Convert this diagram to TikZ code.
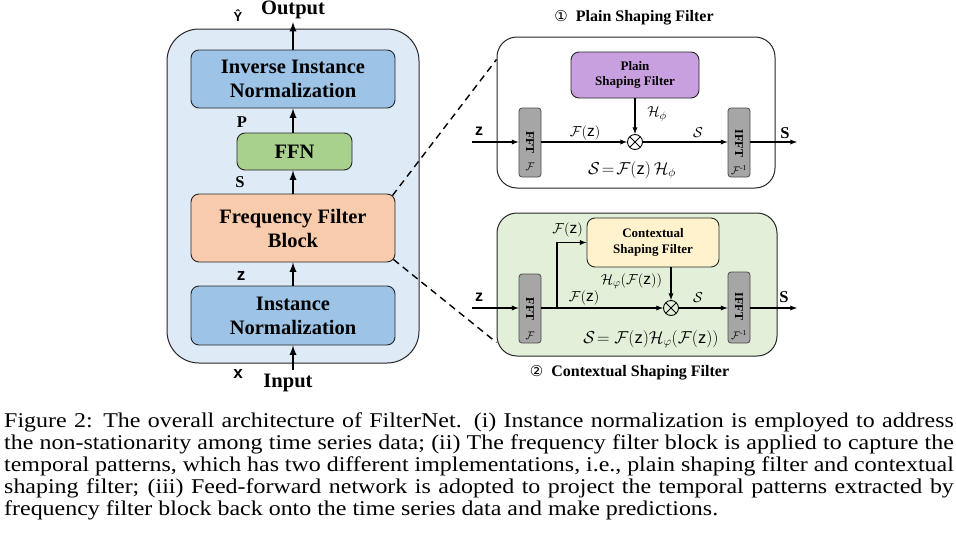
\documentclass[tikz,border=0pt]{standalone}
\usepackage{fontspec}
\usepackage{amsmath}
\usepackage{graphicx}
\setmainfont{Liberation Serif}
\setsansfont{Liberation Sans}
\newfontfamily\circfont{DejaVu Sans}
\usetikzlibrary{positioning}

\definecolor{bodyblue}{HTML}{DEEBF7}
\definecolor{normblue}{HTML}{9DC3E6}
\definecolor{ffngreen}{HTML}{A9D18E}
\definecolor{ffborange}{HTML}{F8CBAD}
\definecolor{psfpurple}{HTML}{C9A0DF}
\definecolor{csfyellow}{HTML}{FFF2CC}
\definecolor{ctxgreen}{HTML}{E2F0D9}
\definecolor{fftgray}{HTML}{A6A6A6}

\newcommand{\capline}[1]{\scalebox{1.14}[1]{\makebox[833pt][s]{#1}}}

\begin{document}
\begin{tikzpicture}[x=1pt, y=-1pt, >=latex,
		block/.style={draw=black!85, rounded corners=8pt, line width=0.9pt, inner sep=0pt, align=center, font=\fontsize{20.5}{24}\selectfont\bfseries},
		small block/.style={block, font=\fontsize{13}{15.5}\selectfont\bfseries},
		frame/.style={draw=black!85, rounded corners=20pt, line width=1pt, inner sep=0pt},
		fftbox/.style={draw=black!70, fill=fftgray, rounded corners=3pt, line width=0.8pt, minimum width=22pt, inner sep=0pt},
		fftlbl/.style={rotate=-90, inner sep=0pt, font=\fontsize{12}{12}\selectfont\bfseries},
		mul/.style={circle, draw, line width=0.9pt, minimum size=15pt, inner sep=0pt,
				path picture={\draw[line width=0.9pt] (path picture bounding box.north west) -- (path picture bounding box.south east)
						(path picture bounding box.north east) -- (path picture bounding box.south west);}},
		flow/.style={->, line width=2.2pt},
		thin flow/.style={->, line width=1.3pt},
		sig/.style={inner sep=0pt, font=\fontsize{16.5}{18}\selectfont\bfseries},
		var/.style={inner sep=0pt, font=\fontsize{17}{18}\selectfont\sffamily\bfseries},
		lbl/.style={inner sep=0pt, font=\fontsize{15.5}{17}\selectfont},
		title/.style={inner sep=0pt, font=\fontsize{16}{18}\selectfont\bfseries},
		caption/.style={anchor=base west, inner sep=0pt, font=\fontsize{21}{22}\selectfont}]
	\useasboundingbox (0,0) rectangle (956,541);

	% FilterNet body
	\draw[fill=bodyblue, draw=black!85, line width=1pt, rounded corners=32pt] (167,29) rectangle (419,363);
	\node[block, fill=normblue, minimum width=204pt, minimum height=58pt] (inv) at (293,79) {Inverse Instance\\Normalization};
	\node[block, fill=ffngreen, minimum width=115pt, minimum height=37pt] (ffn) at (294.5,151.5) {FFN};
	\node[block, fill=ffborange, minimum width=204pt, minimum height=68pt] (ffb) at (293,228) {Frequency Filter\\Block};
	\node[block, fill=normblue, minimum width=204pt, minimum height=59pt] (inorm) at (293,315.5) {Instance\\Normalization};
	\node[anchor=base, inner sep=3pt, font=\fontsize{20.5}{24}\selectfont\bfseries] (output) at (293,14.5) {Output};
	\node[anchor=base, inner sep=3pt, font=\fontsize{20.5}{24}\selectfont\bfseries] (input) at (288,387) {Input};

	\draw[flow] (input.north -| inorm) -- (inorm.south);
	\draw[flow] (inorm.north) -- (ffb.south);
	\draw[flow] (ffb.north) -- (ffn.south -| ffb);
	\draw[flow] (ffn.north -| inv) -- (inv.south);
	\draw[flow] (inv.north) -- (output.south -| inv);

	\node[var, font=\fontsize{13}{14}\selectfont\sffamily\bfseries] (yhat) at (238,16) {Ŷ};
	\node[sig] (plbl) at (242,122.5) {P};
	\node[sig] (slbl) at (240,182.5) {S};
	\node[var] (zlbl) at (241,276) {z};
	\node[var] (xlbl) at (238,374) {x};

	% plain shaping filter
	\node[frame, fill=white, minimum width=278pt, minimum height=151pt] (plainbox) at (636,112.5) {};
	\node[title] (plaintitle) at (634,18) {{\circfont\fontsize{15}{18}\selectfont\mdseries ①}\ \ Plain Shaping Filter};
	\node[small block, fill=psfpurple, minimum width=128pt, minimum height=46pt] (psf) at (635,75) {Plain\\Shaping Filter};
	\node[fftbox, minimum height=69pt] (fft1) at (530,142.5) {};
	\node[fftbox, minimum height=69pt] (ifft1) at (739,142.5) {};
	\node[fftlbl] (fftt1) at (530,142.5) {FFT};
	\node[fftlbl] (ifftt1) at (739,143.5) {IFFT};
	\node[lbl, font=\fontsize{11}{12}\selectfont] (fftf1) at (530,167) {$\mathcal{F}$};
	\node[lbl, font=\fontsize{11}{12}\selectfont] (ifftf1) at (739,170) {$\mathcal{F}^{\text{-1}}$};
	\node[mul] (mul1) at (635,142) {};
	\coordinate (zin1) at (472,142);
	\coordinate (sout1) at (797,142);

	\draw[thin flow] (zin1) -- (fft1.west |- zin1);
	\draw[thin flow] (fft1.east |- mul1) -- (mul1.west);
	\draw[thin flow] (mul1.east) -- (ifft1.west |- mul1);
	\draw[thin flow] (ifft1.east |- sout1) -- (sout1);
	\draw[thin flow] (psf.south) -- (mul1.north);

	\node[var, font=\fontsize{16}{18}\selectfont\sffamily\bfseries] (zin1lbl) at (479,131) {z};
	\node[sig] (sout1lbl) at (785,133) {S};
	\node[lbl] (fz1) at (585,133) {$\mathcal{F}(\textsf{z})$};
	\node[lbl] (s1) at (698,133) {$\mathcal{S}$};
	\node[lbl] (h1) at (657,114) {$\mathcal{H}_{\phi}$};
	\node[lbl, font=\fontsize{16.5}{18}\selectfont] (eq1) at (632,170) {$\mathcal{S}\!=\!\mathcal{F}(\textsf{z})\,\mathcal{H}_{\phi}$};

	% contextual shaping filter
	\node[frame, fill=ctxgreen, minimum width=280pt, minimum height=143pt] (ctxbox) at (637,284.5) {};
	\node[title] (ctxtitle) at (629.5,373) {{\circfont\fontsize{15}{18}\selectfont\mdseries ②}\ \ Contextual Shaping Filter};
	\node[small block, fill=csfyellow, minimum width=132pt, minimum height=49pt] (csf) at (653,242.5) {Contextual\\Shaping Filter};
	\node[fftbox, minimum height=69pt] (fft2) at (530,308.5) {};
	\node[fftbox, minimum height=71pt] (ifft2) at (739,307.5) {};
	\node[fftlbl] (fftt2) at (530,309) {FFT};
	\node[fftlbl] (ifftt2) at (739,306.5) {IFFT};
	\node[lbl, font=\fontsize{11}{12}\selectfont] (fftf2) at (530,336) {$\mathcal{F}$};
	\node[lbl, font=\fontsize{11}{12}\selectfont] (ifftf2) at (739,335) {$\mathcal{F}^{\text{-1}}$};
	\node[mul] (mul2) at (671,308) {};
	\coordinate (zin2) at (472,308);
	\coordinate (sout2) at (797,308);
	\coordinate (branch) at (557,308);

	\draw[thin flow] (zin2) -- (fft2.west |- zin2);
	\draw[thin flow] (fft2.east |- mul2) -- (mul2.west);
	\draw[thin flow] (branch) |- (csf.west);
	\draw[thin flow] (csf.south -| mul2) -- (mul2.north);
	\draw[thin flow] (mul2.east) -- (ifft2.west |- mul2);
	\draw[thin flow] (ifft2.east |- sout2) -- (sout2);

	\node[var, font=\fontsize{16}{18}\selectfont\sffamily\bfseries] (zin2lbl) at (479,297) {z};
	\node[sig] (sout2lbl) at (784,297) {S};
	\node[lbl] (fz2a) at (567.5,230) {$\mathcal{F}(\textsf{z})$};
	\node[lbl] (fz2b) at (584,298) {$\mathcal{F}(\textsf{z})$};
	\node[lbl] (h2) at (631.5,281) {$\mathcal{H}_{\varphi}(\mathcal{F}(\textsf{z}))$};
	\node[lbl] (s2) at (698,298) {$\mathcal{S}$};
	\node[lbl, font=\fontsize{16.5}{18}\selectfont] (eq2) at (651,339) {$\mathcal{S}\!=\mathcal{F}(\textsf{z})\mathcal{H}_{\varphi}(\mathcal{F}(\textsf{z}))$};

	% zoom lines
	\draw[line width=1.4pt, dash pattern=on 7pt off 5pt] ([xshift=-3pt,yshift=-2pt]ffb.north east) -- ([yshift=-23pt]plainbox.north west);
	\draw[line width=1.4pt, dash pattern=on 7pt off 5pt] ([xshift=-2pt,yshift=3pt]ffb.south east) -- ([yshift=14pt]ctxbox.south west);

	% caption
	\node[caption] (cap1) at (4,427) {\capline{Figure 2: The overall architecture of FilterNet. (i) Instance normalization is employed to address}};
	\node[caption] (cap2) at (4,449) {\capline{the non-stationarity among time series data; (ii) The frequency filter block is applied to capture the}};
	\node[caption] (cap3) at (4,471) {\capline{temporal patterns, which has two different implementations, i.e., plain shaping filter and contextual}};
	\node[caption] (cap4) at (4,493) {\capline{shaping filter; (iii) Feed-forward network is adopted to project the temporal patterns extracted by}};
	\node[caption] (cap5) at (4,515) {\scalebox{1.14}[1]{frequency filter block back onto the time series data and make predictions.}};
\end{tikzpicture}
\end{document}
